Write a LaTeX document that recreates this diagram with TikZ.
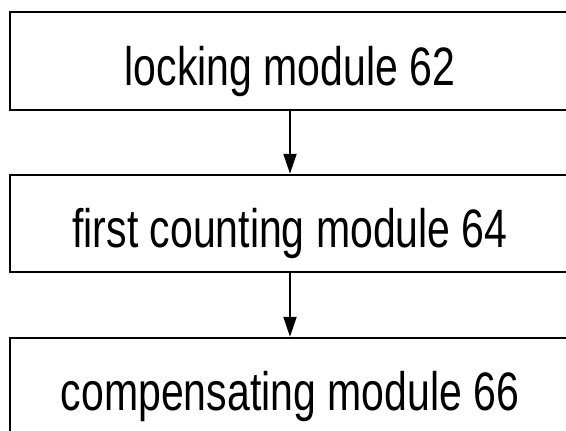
\documentclass[tikz,border=0pt]{standalone}
\usepackage{fontspec}
\setmainfont{Liberation Sans}
\usetikzlibrary{arrows.meta}

% tall lettering used in the module boxes
\newcommand{\modtext}[1]{\scalebox{1}[1.32]{\fontsize{41pt}{41pt}\selectfont #1}}

\tikzset{
  modbox/.style={draw, line width=2pt, rectangle, inner sep=0pt,
    minimum width=560pt, minimum height=97.5pt,
    text height=48pt, text depth=0pt},
  flowarrow/.style={line width=2pt, -{Triangle[width=13pt,length=20pt]}}
}

\begin{document}
\begin{tikzpicture}[x=1pt, y=-1pt]
  \useasboundingbox (0,0) rectangle (566,431);
  \clip (0,0) rectangle (566,431);

  \node[modbox] (lock) at (290,61)    {\modtext{locking module 62}};
  \node[modbox] (count) at (290,223.5) {\modtext{first counting module 64}};
  \node[modbox] (comp) at (290,386.5)  {\modtext{compensating module 66}};

  \draw[flowarrow] (lock.south) -- (count.north);
  \draw[flowarrow] (count.south) -- (comp.north);
\end{tikzpicture}
\end{document}
